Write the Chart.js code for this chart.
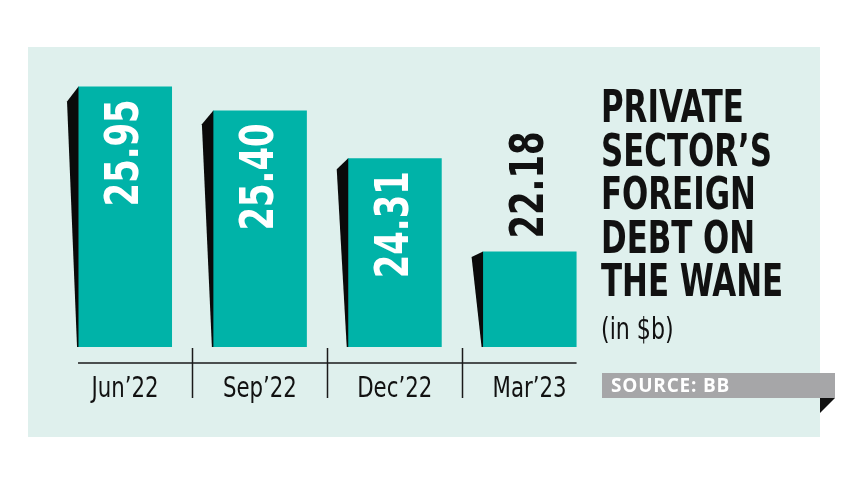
<!DOCTYPE html>
<html>
<head>
<meta charset="utf-8">
<script src="https://cdn.jsdelivr.net/npm/chart.js@4.4.1/dist/chart.umd.min.js"></script>
<style>
    html, body { margin: 0; padding: 0; background: #ffffff; }
    #wrap { position: relative; width: 860px; height: 484px; overflow: hidden; }
    #panel { position: absolute; left: 28px; top: 47px; width: 792px; height: 390px; background: #dff0ed; }
    #chart { position: absolute; left: 0; top: 0; }
    #title {
        position: absolute; left: 601px; top: 85px;
        font-family: "DejaVu Sans Condensed", "DejaVu Sans", sans-serif;
        font-weight: bold; font-size: 44px; line-height: 43.5px; color: #111;
        transform: scaleX(0.78); transform-origin: left top; white-space: nowrap;
    }
    #unit {
        position: absolute; left: 601px; top: 311px;
        font-family: "DejaVu Sans Condensed", "DejaVu Sans", sans-serif;
        font-size: 30px; line-height: 36px; color: #111;
        transform: scaleX(0.82); transform-origin: left top; white-space: nowrap;
    }
    #source {
        position: absolute; left: 602px; top: 373px; width: 224px; height: 25px;
        padding-left: 9px; background: #a6a6a8; color: #fff;
        font-family: "Open Sans", sans-serif; font-weight: bold; font-size: 19px;
        line-height: 25px; letter-spacing: 0.8px;
    }
    #fold {
        position: absolute; left: 820px; top: 398px; width: 0; height: 0;
        border-top: 15px solid #111; border-right: 15px solid transparent;
    }
</style>
</head>
<body>
<div id="wrap">
    <div id="panel"></div>
    <canvas id="chart" width="860" height="484"></canvas>
    <div id="title">PRIVATE<br>SECTOR’S<br>FOREIGN<br>DEBT ON<br>THE WANE</div>
    <div id="unit">(in $b)</div>
    <div id="source">SOURCE: BB</div>
    <div id="fold"></div>
</div>
<script>
// données
const categories = ['Jun’22', 'Sep’22', 'Dec’22', 'Mar’23'];
const debtValues = [25.95, 25.40, 24.31, 22.18];
const valueLabels = ['25.95', '25.40', '24.31', '22.18'];

const TEAL = '#00b3a8';
const NARROW = '"DejaVu Sans Condensed", "DejaVu Sans", sans-serif';

// ombre noire, étiquettes, ligne de base, séparateurs et libellés
const decorPlugin = {
    id: 'decor',
    afterDatasetsDraw(chart) {
        const ctx = chart.ctx;
        const meta = chart.getDatasetMeta(0);
        const area = chart.chartArea;
        const xScale = chart.scales.x;

        ctx.save();
        meta.data.forEach((bar, i) => {
            const left = bar.x - bar.width / 2;
            const base = Math.min(bar.base, area.bottom);
            const h = base - bar.y;
            const dy = h * 0.058;
            ctx.fillStyle = '#0a0a0a';
            ctx.beginPath();
            ctx.moveTo(left + 0.5, bar.y);
            ctx.lineTo(left - 11, bar.y + dy);
            ctx.lineTo(left - 1, base);
            ctx.lineTo(left + 0.5, base);
            ctx.closePath();
            ctx.fill();

            // valeur en vertical
            ctx.save();
            ctx.font = 'bold 47px ' + NARROW;
            ctx.textBaseline = 'middle';
            if (h > 140) {
                ctx.translate(bar.x + 1, bar.y + 13);
                ctx.rotate(-Math.PI / 2);
                ctx.scale(0.8, 1);
                ctx.textAlign = 'right';
                ctx.fillStyle = '#ffffff';
            } else {
                ctx.translate(bar.x + 1, bar.y - 13);
                ctx.rotate(-Math.PI / 2);
                ctx.scale(0.8, 1);
                ctx.textAlign = 'left';
                ctx.fillStyle = '#111111';
            }
            ctx.fillText(valueLabels[i], 0, 0);
            ctx.restore();

            // libellé de catégorie
            ctx.save();
            ctx.translate(xScale.getPixelForValue(i), area.bottom + 50);
            ctx.scale(0.815, 1);
            ctx.font = '29px ' + NARROW;
            ctx.textAlign = 'center';
            ctx.textBaseline = 'alphabetic';
            ctx.fillStyle = '#111111';
            ctx.fillText(categories[i], 0, 0);
            ctx.restore();
        });

        // ligne de base
        const first = meta.data[0];
        const last = meta.data[meta.data.length - 1];
        const axisY = area.bottom + 16;
        ctx.strokeStyle = '#1a1a1a';
        ctx.lineWidth = 1.5;
        ctx.beginPath();
        ctx.moveTo(first.x - first.width / 2, axisY);
        ctx.lineTo(last.x + last.width / 2, axisY);
        ctx.stroke();

        // séparateurs
        for (let i = 0; i < categories.length - 1; i++) {
            const x = Math.round((xScale.getPixelForValue(i) + xScale.getPixelForValue(i + 1)) / 2) + 0.5;
            ctx.beginPath();
            ctx.moveTo(x, area.bottom + 1);
            ctx.lineTo(x, area.bottom + 51);
            ctx.stroke();
        }
        ctx.restore();
    }
};

new Chart(document.getElementById('chart').getContext('2d'), {
    type: 'bar',
    data: {
        labels: categories,
        datasets: [{
            data: debtValues,
            backgroundColor: TEAL,
            borderWidth: 0,
            categoryPercentage: 1,
            barPercentage: 0.697
        }]
    },
    options: {
        responsive: false,
        animation: false,
        layout: {
            padding: { left: 57.6, right: 263, top: 40.4, bottom: 137 }
        },
        plugins: {
            legend: { display: false },
            tooltip: { enabled: false }
        },
        scales: {
            y: { display: false, min: 20, max: 27 },
            x: { display: false }
        }
    },
    plugins: [decorPlugin]
});
</script>
</body>
</html>
